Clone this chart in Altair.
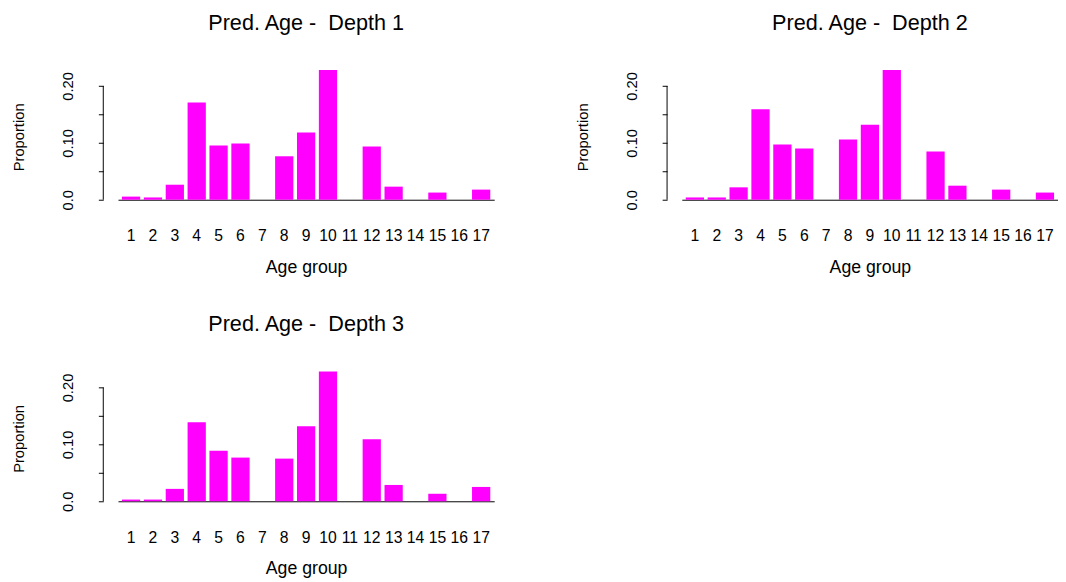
import altair as alt
import pandas as pd

groups = list(range(1, 18))
depth1 = [0.0055, 0.004, 0.0264, 0.171, 0.0954, 0.0989, 0, 0.0764, 0.118, 0.228,
          0, 0.0937, 0.023, 0, 0.0126, 0, 0.0178]
depth2 = [0.004, 0.004, 0.0218, 0.159, 0.097, 0.090, 0, 0.106, 0.132, 0.228,
          0, 0.085, 0.0247, 0, 0.0178, 0, 0.0126]
depth3 = [0.003, 0.003, 0.0218, 0.139, 0.0888, 0.0768, 0, 0.075, 0.132, 0.228,
          0, 0.109, 0.0287, 0, 0.0132, 0, 0.0252]
titles = ["Pred. Age - \u00a0Depth 1", "Pred. Age - \u00a0Depth 2", "Pred. Age - \u00a0Depth 3"]
ytick_values = [0, 0.05, 0.1, 0.15, 0.2]

label_expr = ("datum.value == 0 ? '0.0' : datum.value == 0.1 ? '0.10' : "
              "datum.value == 0.2 ? '0.20' : ''")

y_axis = alt.Axis(title="Proportion", values=ytick_values, labelExpr=label_expr,
                  offset=15, domain=False, tickSize=5, tickColor="black",
                  labelAngle=270, labelAlign="center", labelBaseline="alphabetic",
                  labelPadding=26, labelFontSize=15,
                  titleFontSize=15, titleFontWeight="normal", titleAngle=270,
                  titleBaseline="alphabetic", titleAlign="center",
                  titleX=-81, titleY=75, grid=False)
y_scale = alt.Scale(domain=[0, 0.24], nice=False)


def panel(vals, title):
    df = pd.DataFrame({"group": groups, "prop": vals})
    bars = alt.Chart(df).mark_bar(color="#ff00ff").encode(
        x=alt.X("group:O",
                scale=alt.Scale(paddingInner=0.1667, paddingOuter=0.18),
                axis=alt.Axis(title="Age group", labelAngle=0, ticks=False, tickSize=0,
                              labelPadding=29, labelFontSize=16, labelOverlap=False,
                              labelBaseline="top",
                              domainColor="black", domainWidth=1,
                              titleFontSize=18, titleFontWeight="normal",
                              titleBaseline="alphabetic", titleY=74)),
        y=alt.Y("prop:Q", scale=y_scale, axis=y_axis),
    )
    rule = alt.Chart(pd.DataFrame({"lo": [0.0], "hi": [0.2]})).mark_rule(
        color="black", strokeWidth=1
    ).encode(
        x=alt.value(-15),
        y=alt.Y("lo:Q", scale=y_scale, axis=y_axis),
        y2="hi:Q",
    )
    return alt.layer(bars, rule).properties(
        width=383, height=139,
        title=alt.TitleParams(title, fontSize=22, fontWeight="normal",
                              baseline="alphabetic", offset=12, anchor="middle",
                              color="black"),
    )


chart = alt.concat(
    panel(depth1, titles[0]),
    panel(depth2, titles[1]),
    panel(depth3, titles[2]),
    columns=2,
    spacing={"row": 168, "column": 191},
    bounds="flush",
).properties(
    padding={"left": 4, "top": -1, "right": 0, "bottom": 0},
).configure(
    font="Liberation Sans",
).configure_view(
    stroke=None,
).configure_axis(
    grid=False, labelColor="black", titleColor="black",
)

chart.save("out.html", embed_options={"renderer": "svg", "actions": False})
